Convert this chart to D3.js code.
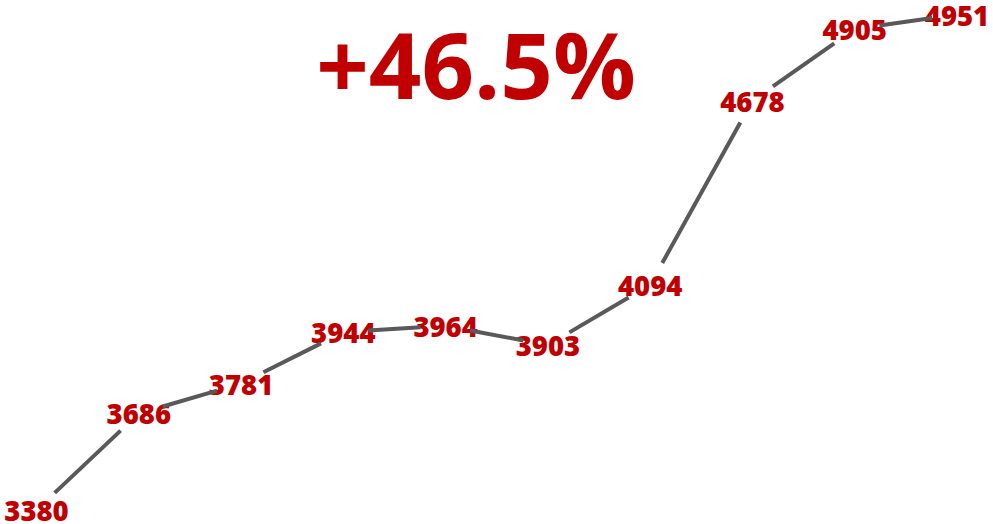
<!DOCTYPE html>
<html>
<head>
<meta charset="utf-8">
<script src="https://cdn.jsdelivr.net/npm/d3@7"></script>
<style>
  html, body { margin: 0; padding: 0; background: #ffffff; }
  svg { display: block; }
  text { font-family: "Open Sans", "Noto Sans", sans-serif; }
  .headline { font-weight: 700; }
  .value { font-weight: 800; }
</style>
</head>
<body>
<svg id="chart" width="993" height="524"></svg>
<script>
// Yearly values, in order
const periods = [0, 1, 2, 3, 4, 5, 6, 7, 8, 9];
const values = [3380, 3686, 3781, 3944, 3964, 3903, 4094, 4678, 4905, 4951];

const W = 993, H = 524;
const labelColor = "#c00000";
const lineColor = "#595959";
const gap = 25; // line is cut back this far from every point so labels stay clear

const svg = d3.select("#chart");

const x = d3.scalePoint()
  .domain(periods)
  .range([36.5, 957]);

const y = d3.scaleLinear()
  .domain([d3.min(values), d3.max(values)])
  .range([510, 14.5]);

const pts = values.map((v, i) => ({ x: x(periods[i]), y: y(v), v }));

// Headline: growth from first to last value
const growth = (values[values.length - 1] / values[0] - 1) * 100;
svg.append("text")
  .attr("class", "headline")
  .attr("x", 476)
  .attr("y", 98.5)
  .attr("text-anchor", "middle")
  .attr("fill", labelColor)
  .attr("font-size", 92)
  .text("+" + growth.toFixed(1) + "%");

// Value labels centred on each point
svg.append("g")
  .selectAll("text")
  .data(pts)
  .join("text")
  .attr("class", "value")
  .attr("x", d => d.x)
  .attr("y", d => d.y + 11)
  .attr("text-anchor", "middle")
  .attr("fill", labelColor)
  .attr("font-size", 27.5)
  .text(d => d.v);

// Connecting segments, trimmed at both ends
const segs = d3.pairs(pts).map(([a, b]) => {
  const dx = b.x - a.x, dy = b.y - a.y;
  const len = Math.hypot(dx, dy);
  const ux = dx / len, uy = dy / len;
  return {
    x1: a.x + ux * gap, y1: a.y + uy * gap,
    x2: b.x - ux * gap, y2: b.y - uy * gap
  };
});

svg.append("g")
  .selectAll("line")
  .data(segs)
  .join("line")
  .attr("x1", d => d.x1)
  .attr("y1", d => d.y1)
  .attr("x2", d => d.x2)
  .attr("y2", d => d.y2)
  .attr("stroke", lineColor)
  .attr("stroke-width", 4);
</script>
</body>
</html>
